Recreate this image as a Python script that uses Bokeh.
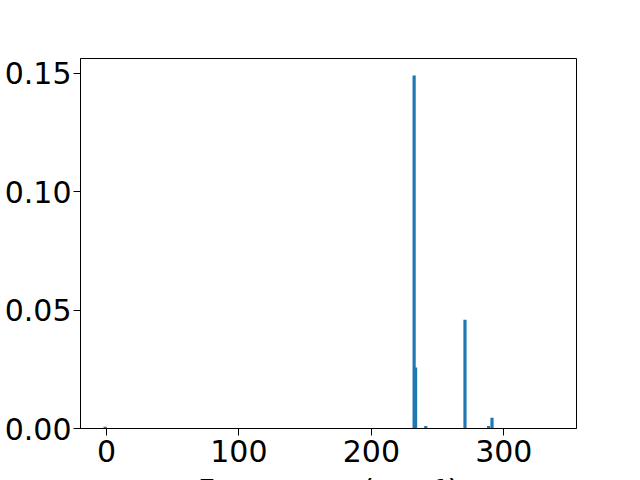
from bokeh.plotting import figure
from bokeh.models import FixedTicker, NumeralTickFormatter, Range1d
from bokeh.embed import file_html
from bokeh.resources import INLINE

# Data
freqs = [-1.0, 232.3, 233.4, 241.1, 270.7, 288.5, 291.1]
intensities = [0.0007, 0.1490, 0.0258, 0.0011, 0.0459, 0.0011, 0.0045]
x_ticks = [0, 100, 200, 300]
y_ticks = [0.0, 0.05, 0.10, 0.15]
x_label = "Frequency (cm⁻¹)"

FONT = "DejaVu Sans"
FS = "30px"

p = figure(width=640, height=480, frame_width=496, frame_height=370,
           output_backend="svg", toolbar_location=None,
           x_range=Range1d(-19.6, 354.9), y_range=Range1d(0, 0.1562),
           min_border_left=80, min_border_right=64, min_border_top=58,
           min_border_bottom=52)

p.vbar(x=freqs, top=intensities, width=2.4, bottom=0,
       fill_color="#1f77b4", line_color=None)

p.xgrid.visible = False
p.ygrid.visible = False
p.background_fill_color = "white"
p.border_fill_color = "white"
p.outline_line_color = "black"
p.outline_line_width = 1
p.outline_line_alpha = 1

for ax in (p.xaxis[0], p.yaxis[0]):
    ax.major_label_text_font = FONT
    ax.major_label_text_font_size = FS
    ax.major_label_text_color = "black"
    ax.axis_line_color = "black"
    ax.axis_line_width = 1
    ax.major_tick_line_color = "black"
    ax.major_tick_in = 0
    ax.major_tick_out = 7
    ax.minor_tick_line_color = None

p.xaxis.ticker = FixedTicker(ticks=x_ticks)
p.yaxis.ticker = FixedTicker(ticks=y_ticks)
p.yaxis.formatter = NumeralTickFormatter(format="0.00")
p.yaxis.major_label_standoff = 2
p.xaxis.major_label_standoff = 4

p.xaxis.axis_label = x_label
p.xaxis.axis_label_text_font = FONT
p.xaxis.axis_label_text_font_size = FS
p.xaxis.axis_label_text_font_style = "normal"
p.xaxis.axis_label_text_color = "black"
p.xaxis.axis_label_standoff = 8

open("out.html", "w").write(file_html(p, INLINE))
